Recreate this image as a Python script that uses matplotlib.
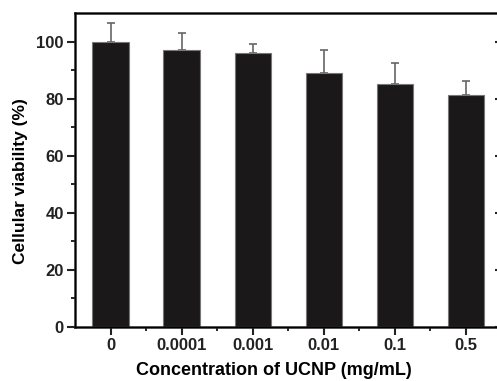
import matplotlib
matplotlib.use('Agg')
import matplotlib.pyplot as plt
import numpy as np

# data
labels = ['0', '0.0001', '0.001', '0.01', '0.1', '0.5']
viability = [100.0, 97.2, 96.0, 89.0, 85.2, 81.1]
err = [6.4, 5.7, 3.3, 8.0, 7.2, 5.2]

plt.rcParams['font.family'] = ['Liberation Sans', 'DejaVu Sans']

fig = plt.figure(figsize=(4.97, 3.81), dpi=100)
# the reference is cropped on the right, so the axes run past the figure edge
ax = fig.add_axes([75/497, 1-326.7/381, (501.5-75)/497, (326.7-13)/381])

x = np.arange(len(labels))
ax.bar(x, viability, width=0.51, color='#1a1818', edgecolor='#777777', linewidth=0.8, zorder=2)
ax.errorbar(x, viability, yerr=[np.zeros(len(err)), err], fmt='none',
            ecolor='#666666', elinewidth=1.2, capsize=3, capthick=1.2, zorder=1)

ax.set_xlim(-0.5, 5.5)
ax.set_ylim(0, 110)
ax.set_xticks(x)
ax.set_xticklabels(labels)
ax.set_xticks(x[:-1] + 0.5, minor=True)
ax.set_yticks([0, 20, 40, 60, 80, 100])
ax.set_yticks([10, 30, 50, 70, 90], minor=True)

for s in ax.spines.values():
    s.set_linewidth(1.8)
    s.set_color('#222222')

ax.tick_params(axis='both', which='major', direction='out', length=6, width=1.5,
               labelsize=12, colors='#222222', pad=2)
ax.tick_params(axis='both', which='minor', direction='out', length=3, width=1.2)
for t in ax.get_xticklabels() + ax.get_yticklabels():
    t.set_fontweight('bold')

# inward ticks on the (cropped) right spine
ax2 = ax.twinx()
ax2.set_ylim(ax.get_ylim())
ax2.set_yticks([0, 20, 40, 60, 80, 100])
ax2.tick_params(axis='y', direction='in', length=4.5, width=1.5, colors='#222222', labelright=False)
ax2.spines['right'].set_linewidth(1.8)

ax.set_xlabel('Concentration of UCNP (mg/mL)', fontsize=13, fontweight='bold')
ax.xaxis.set_label_coords(0.467, -0.112)
ax.set_ylabel('Cellular viability (%)', fontsize=12.5, fontweight='bold')
ax.yaxis.set_label_coords(-0.11, 0.464)

fig.savefig('out.png', dpi=100)
